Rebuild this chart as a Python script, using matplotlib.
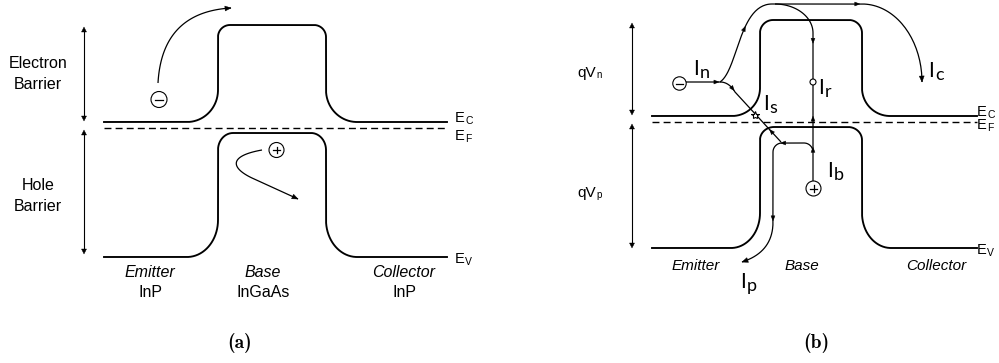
import numpy as np
import matplotlib
matplotlib.use("Agg")
import matplotlib.pyplot as plt
from matplotlib.patches import Polygon, Circle
from math import comb

# ---- band-diagram levels (pixel units, y grows downward) ----
# x: flat start, left wall, right wall, flat end
A_X = [104, 218, 326, 447]
A_EC = [122, 25]          # conduction band: flat level, base plateau
A_EV = [257, 133]         # valence band: flat level, base plateau
A_EF = 128
B_X = [652, 760, 862, 977]
B_EC = [116, 20]
B_EV = [248, 127]
B_EF = 122

A_REGIONS = ["Emitter", "Base", "Collector"]
A_MATERIALS = ["InP", "InGaAs", "InP"]
B_REGIONS = ["Emitter", "Base", "Collector"]
CURRENTS = ["n", "r", "s", "c", "b", "p"]

W, H = 999, 363
fig = plt.figure(figsize=(W / 100, H / 100), dpi=100)
ax = fig.add_axes([0, 0, 1, 1])
ax.set_xlim(0, W)
ax.set_ylim(H, 0)
ax.axis("off")
renderer = fig.canvas.get_renderer()

SANS = "Liberation Sans"
CUR = "Lato"
BAND_LW = 1.35
PATH_LW = 0.9


def band(xs, lv, rl, rh, n=40):
    x0, wl, wr, x1 = xs
    y_lo, y_hi = lv
    t = np.linspace(0, np.pi / 2, n)
    X = [np.array([x0])]
    Y = [np.array([y_lo])]
    cx, cy = wl - rl[0], y_lo - rl[1]
    X.append(cx + rl[0] * np.sin(t)); Y.append(cy + rl[1] * np.cos(t))
    cx, cy = wl + rh[0], y_hi + rh[1]
    X.append(cx - rh[0] * np.cos(t)); Y.append(cy - rh[1] * np.sin(t))
    cx = wr - rh[0]
    X.append(cx + rh[0] * np.sin(t)); Y.append(cy - rh[1] * np.cos(t))
    cx, cy = wr + rl[0], y_lo - rl[1]
    X.append(cx - rl[0] * np.cos(t)); Y.append(cy + rl[1] * np.sin(t))
    X.append(np.array([x1])); Y.append(np.array([y_lo]))
    return np.concatenate(X), np.concatenate(Y)


def bez(*P, n=60):
    P = np.asarray(P, float)
    t = np.linspace(0, 1, n)[:, None]
    k = len(P) - 1
    return sum(comb(k, i) * (1 - t) ** (k - i) * t ** i * P[i] for i in range(k + 1))


def arc(c, rx, ry, a0, a1, n=40):
    a = np.radians(np.linspace(a0, a1, n))
    return np.column_stack([c[0] + rx * np.cos(a), c[1] + ry * np.sin(a)])


def seg(p, q, n=20):
    return np.column_stack([np.linspace(p[0], q[0], n), np.linspace(p[1], q[1], n)])


def tri(tip, d, L=5.0, Wd=4.0):
    d = np.asarray(d, float)
    d = d / np.linalg.norm(d)
    nrm = np.array([-d[1], d[0]])
    tip = np.asarray(tip, float)
    base = tip - d * L
    ax.add_patch(Polygon([tip, base + nrm * Wd / 2, base - nrm * Wd / 2],
                         closed=True, fc="k", ec="k", lw=0.3, zorder=5))


def head_on(path, near, L=5.0, Wd=4.0, reverse=False):
    i = int(np.argmin(np.hypot(path[:, 0] - near[0], path[:, 1] - near[1])))
    i = min(max(i, 1), len(path) - 2)
    d = path[i + 1] - path[i - 1]
    if reverse:
        d = -d
    d = d / np.linalg.norm(d)
    tri(path[i] + d * L / 2, d, L, Wd)


def head_end(path, L=6.0, Wd=5.0):
    d = path[-1] - path[-4]
    tri(path[-1], d, L, Wd)


def draw(path, lw=PATH_LW):
    ax.plot(path[:, 0], path[:, 1], color="k", lw=lw, solid_capstyle="butt")


def double_arrow(x, y0, y1):
    ax.plot([x, x], [y0 + 3, y1 - 3], color="k", lw=0.8)
    tri((x, y0), (0, -1), 5, 5)
    tri((x, y1), (0, 1), 5, 5)


def carrier(c, r, sign):
    ax.add_patch(Circle(c, r, fill=False, ec="k", lw=0.8))
    h = r * 0.45
    ax.plot([c[0] - h, c[0] + h], [c[1], c[1]], color="k", lw=0.9)
    if sign > 0:
        ax.plot([c[0], c[0]], [c[1] - h, c[1] + h], color="k", lw=0.9)


def sub_label(x, yb, main, sub, size, subsize, family, drop, gap=0.5, **kw):
    t = ax.text(x, yb, main, fontsize=size, family=family, ha="left",
                va="baseline", **kw)
    bb = t.get_window_extent(renderer)
    ax.text(bb.x1 + gap, yb + drop, sub, fontsize=subsize, family=family,
            ha="left", va="baseline", **kw)


# ================= panel (a) =================
for lv, rl, rh in [(A_EC, (31, 32), (12, 12)), (A_EV, (31, 37), (15, 17))]:
    bx, by = band(A_X, lv, rl, rh)
    ax.plot(bx, by, color="k", lw=BAND_LW)
ax.plot([A_X[0], A_X[3]], [A_EF, A_EF], color="k", lw=1.0, dashes=(5, 3))

double_arrow(84, 27, A_EC[0] - 1)
double_arrow(84, 130, A_EV[0] - 3)

for yb, s in [(68, "Electron"), (89, "Barrier"), (190, "Hole"), (211, "Barrier")]:
    ax.text(38, yb, s, fontsize=11.5, family=SANS, ha="center", va="baseline")

for xc, reg, mat in zip([150, 263, 404], A_REGIONS, A_MATERIALS):
    ax.text(xc, 277, reg, fontsize=11.5, family=SANS, style="italic",
            ha="center", va="baseline")
    ax.text(xc, 297, mat, fontsize=11.5, family=SANS, ha="center", va="baseline")

sub_label(455, A_EC[0], "E", "C", 10.5, 7.5, SANS, 2)
sub_label(455, 140, "E", "F", 10.5, 7.5, SANS, 2)
sub_label(455, 263, "E", "V", 10.5, 7.5, SANS, 2)

carrier((159, 99.5), 8, -1)
carrier((276.5, 150), 7.5, +1)

hop = bez((158, 83), (162, 12), (231, 8))
draw(hop)
head_end(hop, 6, 5)

scatter = np.vstack([bez((262, 150), (228, 156), (231, 168), (252, 178)),
                     seg((252, 178), (298, 199))])
draw(scatter)
head_end(scatter, 6, 5)

ax.text(240, 348, "(a)", fontsize=14, family="cmb10", ha="center", va="baseline")

# ================= panel (b) =================
for lv, rl, rh in [(B_EC, (28, 28), (13, 13)), (B_EV, (29, 35), (14, 13))]:
    bx, by = band(B_X, lv, rl, rh)
    ax.plot(bx, by, color="k", lw=BAND_LW)
ax.plot([B_X[0], B_X[3]], [B_EF, B_EF], color="k", lw=1.0, dashes=(5, 3))

double_arrow(632, 23, B_EC[0] - 1)
double_arrow(632, 124, B_EV[0])

sub_label(577, 77, "qV", "n", 11, 7, SANS, 1)
sub_label(577, 197, "qV", "p", 11, 7, SANS, 1)

for xc, reg in zip([696, 802, 936], B_REGIONS):
    ax.text(xc, 270, reg, fontsize=11, family=SANS, style="italic",
            ha="center", va="baseline")

sub_label(977, B_EC[0], "E", "C", 10.5, 7.5, SANS, 2)
sub_label(977, 129, "E", "F", 10.5, 7.5, SANS, 2)
sub_label(977, 254, "E", "V", 10.5, 7.5, SANS, 2)

carrier((679.5, 83.5), 6.7, -1)
carrier((813.5, 188.5), 7.5, +1)

# electron injected over the barrier and collected
over = np.vstack([seg((686, 82), (720, 82)),
                  bez((720, 82), (738, 70), (739, 4), (772, 4)),
                  seg((772, 4), (862, 4)),
                  arc((862, 82), 60, 78, -90, 0)])
draw(over)
head_on(over, (716, 82))
head_on(over, (744, 28))
head_on(over, (857, 4))
head_end(over, 6, 5)

# branch falling into the base (recombination)
rec = np.vstack([arc((775, 33), 38, 29, -90, 0), seg((813, 33), (813, 181))])
draw(rec)
head_on(rec, (813, 42))
head_on(rec, (813, 118), reverse=True)
head_on(rec, (813, 153), reverse=True)
ax.add_patch(Circle((813, 82), 3, fc="white", ec="k", lw=0.8, zorder=6))

# space-charge recombination path
sc = np.vstack([bez((720, 82), (729, 82), (735, 92)), seg((735, 92), (781, 142))])
draw(sc)
head_on(sc, (732, 89))
head_on(sc, (771, 131), reverse=True)
ax.plot([755], [115], marker="*", ms=6, mfc="white", mec="k", mew=0.8, zorder=6)

# hole back-injected into the emitter
hole = np.vstack([arc((804, 152), 9, 9, 0, -90),
                  seg((804, 143), (782, 143)),
                  arc((782, 152), 9, 9, -90, -180),
                  seg((773, 152), (773, 222)),
                  bez((773, 222), (773, 252), (742, 262))])
draw(hole)
head_on(hole, (783, 143))
head_on(hole, (773, 219))
head_end(hole, 6, 5)

I_POS = [(693, 75), (818, 94), (763, 110), (928, 77), (827, 177), (740, 288)]
for (x, yb), s in zip(I_POS, CURRENTS):
    sub_label(x, yb, "I", s, 15, 13, CUR, 3, gap=1)

ax.text(816, 348, "(b)", fontsize=14, family="cmb10", ha="center", va="baseline")

fig.savefig("out.png", dpi=100, facecolor="white")
